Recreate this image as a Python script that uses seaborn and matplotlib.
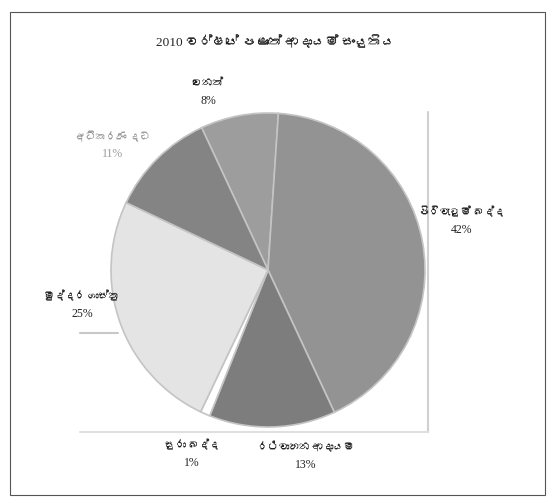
import numpy as np
import seaborn as sns
import matplotlib
matplotlib.use("Agg")
import matplotlib.pyplot as plt
from matplotlib import font_manager
from matplotlib.patches import Rectangle

# data
title = "2010 වර්ෂයේ පළාත් ආදායම් සංයුතිය"
categories = ["වෙනත්", "පිරිවැටුම් බද්ද", "රථවාහන ආදායම", "සුරා බද්ද", "මුද්දර ගාස්තු", "අධිකරණ දඩ"]
shares = [8, 42, 13, 1, 25, 11]
share_labels = ["8%", "42%", "13%", "1%", "25%", "11%"]

colors = ["#9d9d9d", "#939393", "#7d7d7d", "#ffffff", "#e4e4e4", "#848484"]


def find_sinhala_font():
    # pick any installed font that actually has Sinhala glyphs
    try:
        from fontTools.ttLib import TTFont
    except ImportError:
        return None
    for f in font_manager.fontManager.ttflist:
        try:
            cmap = TTFont(f.fname, fontNumber=0, lazy=True).getBestCmap()
        except Exception:
            continue
        if cmap and 0x0DB4 in cmap:
            return f.name
    return None


sns.set_theme(style="white")
families = ["Liberation Serif"]
sin_font = find_sinhala_font()
if sin_font:
    families.append(sin_font)
families.append("DejaVu Sans")
plt.rcParams["font.family"] = families

W, H = 552, 501
fig = plt.figure(figsize=(W / 100, H / 100), dpi=100)
fig.patch.set_facecolor("white")

# outer frame of the chart
fig.patches.append(Rectangle((10 / W, 1 - 495 / H), 535 / W, 483 / H, transform=fig.transFigure,
                             fill=False, edgecolor="#555555", linewidth=0.8))

fig.text(275 / W, 1 - 42 / H, title, ha="center", va="center", fontsize=9.5, color="#222222")

# pie axes: centre (268, 270) px, radius 157 px
cx, cy, r = 268, 270, 157
ax = fig.add_axes([(cx - r) / W, 1 - (cy + r) / H, 2 * r / W, 2 * r / H])
ax.pie(shares, colors=colors, startangle=115, counterclock=False,
       wedgeprops=dict(edgecolor="#c4c4c4", linewidth=1.2))
ax.set_xlim(-1, 1)
ax.set_ylim(-1, 1)
ax.set_aspect("auto")
ax.axis("off")

# scan artefact: frame edges of the pasted pie picture
fig.lines.append(plt.Line2D([428 / W, 428 / W], [1 - 112 / H, 1 - 432 / H], transform=fig.transFigure,
                            color="#d0d0d0", linewidth=1.5))
fig.lines.append(plt.Line2D([80 / W, 428 / W], [1 - 432 / H, 1 - 432 / H], transform=fig.transFigure,
                            color="#e0e0e0", linewidth=1.5))
fig.lines.append(plt.Line2D([80 / W, 118 / W], [1 - 333 / H, 1 - 333 / H], transform=fig.transFigure,
                            color="#c8c8c8", linewidth=1.5))

# label positions (pixels) for name / percent
label_pos = [(208, 83), (462, 212), (306, 447), (192, 445), (82, 296), (113, 136)]
label_col = ["#222222", "#222222", "#222222", "#222222", "#222222", "#9a9a9a"]
for name, pct, (lx, ly), c in zip(categories, share_labels, label_pos, label_col):
    fig.text(lx / W, 1 - ly / H, name, ha="center", va="center", fontsize=7.5, color=c)
    fig.text(lx / W, 1 - (ly + 18) / H, pct, ha="center", va="center", fontsize=8.5, color=c)

fig.savefig("out.png", dpi=100, facecolor="white")
